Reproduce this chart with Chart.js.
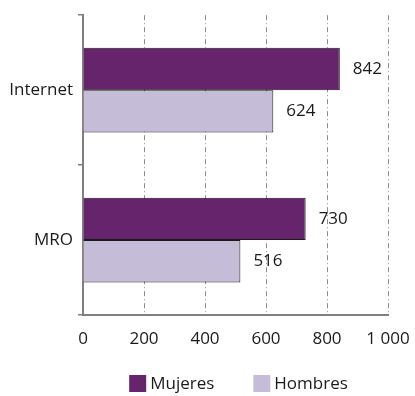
<!DOCTYPE html>
<html>
<head>
<meta charset="utf-8">
<script src="https://cdn.jsdelivr.net/npm/chart.js@4/dist/chart.umd.min.js"></script>
<style>
    html, body { margin: 0; padding: 0; background: #fff; }
    canvas { display: block; }
</style>
</head>
<body>
<canvas id="grafico" width="415" height="396"></canvas>
<script>
// Datos del gráfico
const categorias = ['Internet', 'MRO'];
const mujeres = [842, 730];
const hombres = [624, 516];
const etiquetasX = [0, 200, 400, 600, 800, 1000];

const fuente = "'Open Sans', 'Noto Sans', sans-serif";
const colorEje = '#808080';
const colorTexto = '#1a1a1a';

// Etiquetas de valor a la derecha de cada barra
const etiquetasValor = {
    id: 'etiquetasValor',
    afterDatasetsDraw(chart) {
        const ctx = chart.ctx;
        ctx.save();
        ctx.font = '17px ' + fuente;
        ctx.fillStyle = colorTexto;
        ctx.textAlign = 'left';
        ctx.textBaseline = 'middle';
        chart.data.datasets.forEach((ds, i) => {
            chart.getDatasetMeta(i).data.forEach((barra, j) => {
                ctx.fillText(ds.data[j], barra.x + 13, barra.y);
            });
        });
        ctx.restore();
    }
};

// Leyenda propia debajo del gráfico, centrada en el área de dibujo
const leyenda = {
    id: 'leyenda',
    afterDraw(chart) {
        const ctx = chart.ctx;
        const area = chart.chartArea;
        const caja = 17, sep = 4, entre = 39;
        ctx.save();
        ctx.font = '17px ' + fuente;
        ctx.textBaseline = 'middle';
        ctx.textAlign = 'left';
        const items = chart.data.datasets.map(ds => ({
            texto: ds.label,
            color: ds.backgroundColor,
            ancho: caja + sep + ctx.measureText(ds.label).width
        }));
        const total = items.reduce((a, it) => a + it.ancho, 0) + entre * (items.length - 1);
        let x = (area.left + area.right) / 2 + 3 - total / 2;
        const y = 375;
        items.forEach(it => {
            ctx.fillStyle = it.color;
            ctx.fillRect(x, y, caja, caja);
            ctx.fillStyle = colorTexto;
            ctx.fillText(it.texto, x + caja + sep, y + caja / 2 + 1);
            x += it.ancho + entre;
        });
        ctx.restore();
    }
};

const ctx = document.getElementById('grafico').getContext('2d');
const grafico = new Chart(ctx, {
    type: 'bar',
    data: {
        labels: categorias,
        datasets: [{
            label: 'Mujeres',
            data: mujeres,
            backgroundColor: '#66246c',
            borderColor: '#1a1a1a',
            borderWidth: 1
        }, {
            label: 'Hombres',
            data: hombres,
            backgroundColor: '#c5bdd8',
            borderColor: '#1a1a1a',
            borderWidth: 1
        }]
    },
    options: {
        indexAxis: 'y',
        responsive: false,
        animation: false,
        categoryPercentage: 0.565,
        barPercentage: 1,
        layout: { padding: { top: 14, right: 27, bottom: 42, left: 0 } },
        scales: {
            x: {
                min: 0,
                max: 1000,
                afterBuildTicks(scale) {
                    scale.ticks = etiquetasX.map(v => ({ value: v }));
                },
                afterFit(scale) {
                    scale.height = 39;
                    scale.paddingLeft = 0;
                    scale.paddingRight = 0;
                },
                ticks: {
                    padding: 14,
                    color: colorTexto,
                    font: { size: 17, family: fuente },
                    maxRotation: 0,
                    callback: v => v >= 1000 ? '1 000' : String(v)
                },
                grid: {
                    drawTicks: false,
                    color: c => (c.tick && c.tick.value === 0) ? 'rgba(0,0,0,0)' : '#8c8c8c',
                    lineWidth: 1
                },
                border: { color: colorEje, width: 2, dash: [5, 3, 1, 3] }
            },
            y: {
                offset: true,
                afterFit(scale) { scale.width = 83; },
                ticks: {
                    padding: 5,
                    color: colorTexto,
                    font: { size: 17, family: fuente }
                },
                grid: {
                    offset: true,
                    drawOnChartArea: false,
                    drawTicks: true,
                    tickLength: 5,
                    tickColor: colorEje,
                    lineWidth: 1.5
                },
                border: { color: colorEje, width: 2 }
            }
        },
        plugins: {
            tooltip: { enabled: false },
            legend: { display: false }
        }
    },
    plugins: [etiquetasValor, leyenda]
});
</script>
</body>
</html>
